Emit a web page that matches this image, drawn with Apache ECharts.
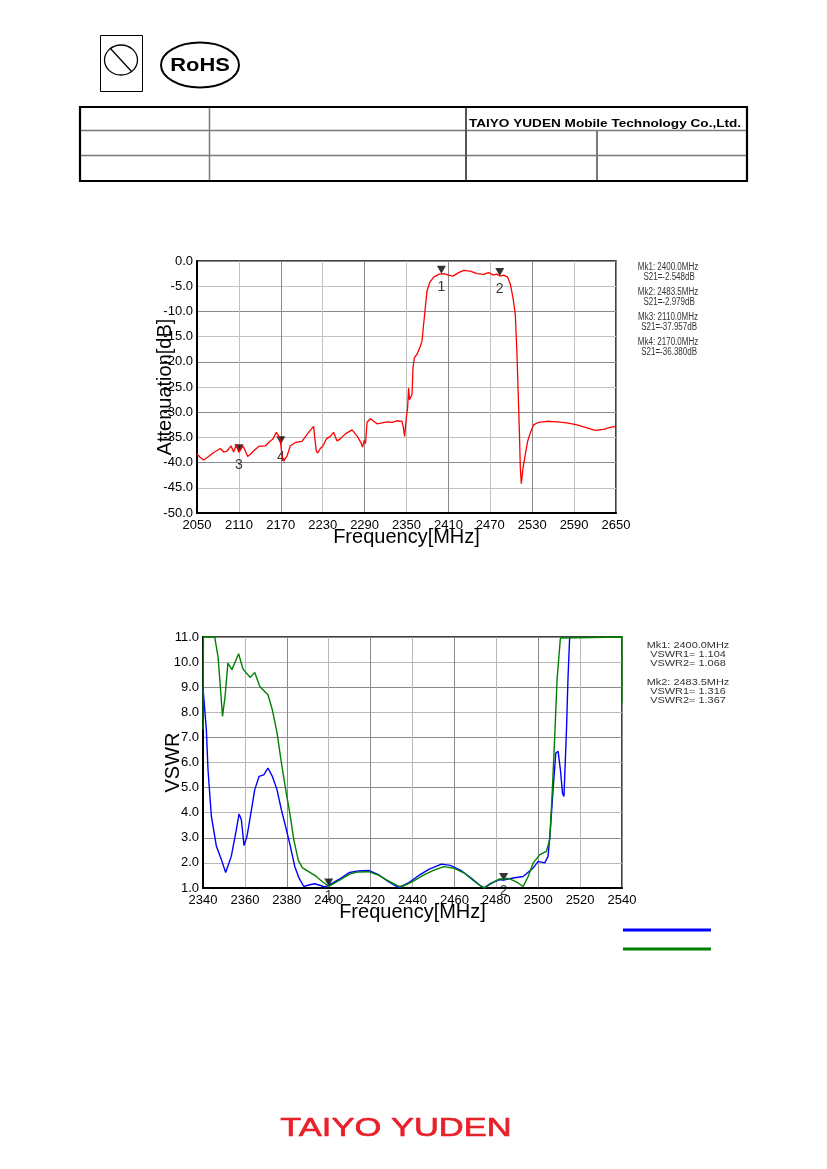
<!DOCTYPE html>
<html>
<head>
<meta charset="utf-8">
<script src="https://cdn.jsdelivr.net/npm/echarts@6/dist/echarts.min.js"></script>
<style>
  html, body { margin: 0; padding: 0; background: #fff; }
  #main { width: 827px; height: 1169px; }
</style>
</head>
<body>
<div id="main"></div>
<script>
// S21 curve (attenuation)
const s21Freq = [2050, 2054, 2059.5, 2066.6, 2073.8, 2079, 2083.4, 2088.1, 2093, 2098.7, 2102.5, 2106.3, 2110,
  2115.9, 2119, 2122.5, 2126, 2131, 2138.2, 2147.8, 2155, 2158.8, 2163.6, 2166.9, 2168.5, 2170, 2171.7, 2174,
  2178.9, 2183.6, 2190.8, 2200.4, 2209.8, 2217, 2218.4, 2220.8, 2223, 2226.6, 2230.4, 2235.2, 2240.9, 2245.6,
  2250.5, 2255.2, 2262.4, 2272, 2279.1, 2284.9, 2287, 2289.5, 2291.3, 2293.5, 2298.2, 2307.8, 2315, 2322.1,
  2329.3, 2336.4, 2343.5, 2345.5, 2347.3, 2349.7, 2351.6, 2353, 2354.3, 2355.5, 2357.9, 2359.3, 2361.2, 2365,
  2369.8, 2372.2, 2374.5, 2376.9, 2379.3, 2383.1, 2388.8, 2396, 2400, 2403.1, 2410.3, 2416.6, 2424.6, 2431.8,
  2441.4, 2450.9, 2460.4, 2467.6, 2474.7, 2479, 2483.5, 2489.1, 2494.8, 2498.7, 2502.5, 2505.8, 2508.2, 2509.7,
  2511.5, 2513, 2514.4, 2516.8, 2520.1, 2523.4, 2527.3, 2532, 2539.2, 2551.2, 2565.5, 2579.8, 2594.2, 2608.5,
  2620.4, 2632.3, 2641.9, 2650];
const s21Db = [-38.3, -38.9, -39.5, -38.8, -38.0, -37.6, -37.2, -37.9, -37.7, -36.7, -37.9, -36.4, -37.957,
  -36.7, -37.6, -38.8, -38.4, -37.7, -36.8, -36.7, -35.7, -35.3, -34.0, -34.7, -35.2, -36.38, -38.7, -39.7,
  -38.7, -36.7, -36.0, -35.8, -34.0, -32.8, -34.7, -37.7, -38.1, -37.2, -36.7, -35.3, -34.8, -34.0,
  -35.7, -35.3, -34.3, -33.5, -34.7, -36.1, -36.9, -35.6, -36.2, -32.0, -31.3, -32.3, -32.1, -31.9,
  -32.0, -31.7, -31.8, -33.0, -34.8, -31.1, -29.1, -25.2, -27.5, -27.5, -26.5, -21.2, -19.2, -18.5,
  -16.9, -15.9, -12.6, -9.3, -6.0, -4.3, -3.2, -2.65, -2.548, -2.5, -2.8, -3.0, -2.3, -1.85,
  -2.0, -2.5, -2.65, -2.3, -2.8, -2.6, -2.979, -2.8, -3.2, -4.6, -7.3, -10.6, -18.5, -25.2,
  -33.1, -41.1, -44.2, -41.1, -38.4, -35.8, -34.1, -32.5, -32.0, -31.8, -31.9, -32.1, -32.5, -33.1,
  -33.6, -33.4, -33.0, -32.8];

// VSWR1 (blue)
const vswr1Freq = [2340, 2341.6, 2342.4, 2344, 2346.4, 2348.8, 2350.8, 2353.5, 2355.9, 2357.2, 2358.3, 2359.6,
  2361, 2362.6, 2364.7, 2366.8, 2369, 2371, 2373.1, 2375.3, 2377.4, 2379.8, 2381.7, 2383.8, 2385.8, 2388.1,
  2390.9, 2393.3, 2396.5, 2398, 2400, 2405, 2410, 2414, 2419, 2424, 2428, 2432.5, 2434, 2438, 2443, 2448,
  2453.8, 2458, 2463, 2468, 2472, 2474, 2477, 2481.6, 2483.5, 2488, 2492.8, 2497.6, 2500, 2503.1, 2504.7,
  2505.8, 2507.1, 2508.4, 2509.5, 2510.6, 2511.6, 2512.3, 2513.5, 2514.2, 2515, 2515.6];
const vswr1 = [9.0, 7.3, 5.7, 3.85, 2.66, 2.13, 1.62, 2.26, 3.32, 3.95, 3.72, 2.69,
  3.06, 3.85, 4.92, 5.45, 5.51, 5.78, 5.45, 4.92, 4.12, 3.32, 2.66, 1.86, 1.40, 1.06,
  1.13, 1.17, 1.09, 1.04, 1.104, 1.35, 1.62, 1.68, 1.70, 1.52, 1.28, 1.05, 1.03, 1.2, 1.5, 1.75,
  1.95, 1.9, 1.7, 1.4, 1.12, 1.0, 1.17, 1.33, 1.316, 1.40, 1.46, 1.8, 2.06, 2.0, 2.26,
  3.32, 4.92, 6.38, 6.44, 5.71, 4.78, 4.65, 7.3, 9.3, 10.96, 11];

// VSWR2 (green)
const vswr2Freq = [2340, 2340.2, 2345.6, 2347.2, 2348.3, 2349.3, 2350.5, 2351.9, 2353.8, 2357, 2359.1, 2362.6,
  2364.7, 2367.1, 2371, 2373.1, 2375.3, 2377.4, 2379.5, 2381.4, 2383.4, 2385.5, 2387.5, 2391, 2394.1, 2397, 2400,
  2405, 2410, 2414, 2419, 2424, 2428, 2433, 2435, 2440, 2445, 2450, 2455, 2460, 2465, 2469, 2472.5, 2474.5,
  2478, 2481.6, 2483.5, 2486, 2490.4, 2492.8, 2495.2, 2497.6, 2500.8, 2503.9, 2505.5, 2506.6, 2507.9, 2509,
  2510.6, 2511, 2540, 2540];
const vswr2 = [7.3, 11, 11, 10.2, 9.0, 7.84, 8.6, 9.96, 9.7, 10.33, 9.72, 9.39,
  9.59, 9.03, 8.7, 8.1, 7.2, 6.0, 4.9, 4.0, 2.9, 2.1, 1.8, 1.62, 1.46, 1.25, 1.068,
  1.3, 1.55, 1.64, 1.65, 1.5, 1.3, 1.08, 1.06, 1.25, 1.5, 1.7, 1.85, 1.78, 1.58, 1.3, 1.08, 1.0,
  1.2, 1.36, 1.367, 1.38, 1.2, 1.06, 1.46, 2.0, 2.33, 2.46, 2.92, 4.65, 7.04, 9.3,
  10.96, 11, 11, 8.37];

// markers
const s21MarkFreq = [2400, 2483.5, 2110, 2170];
const s21MarkDb = [-2.548, -2.979, -37.957, -36.380];
const vswrMarkFreq = [2400, 2483.5];
const vswrMarkVal = [1.104, 1.316];

// marker read-outs
const s21Notes = [['Mk1: 2400.0MHz', ' S21=-2.548dB'], ['Mk2: 2483.5MHz', ' S21=-2.979dB'],
  ['Mk3: 2110.0MHz', ' S21=-37.957dB'], ['Mk4: 2170.0MHz', ' S21=-36.380dB']];
const vswrNotes = [['Mk1: 2400.0MHz', 'VSWR1= 1.104', 'VSWR2= 1.068'],
  ['Mk2: 2483.5MHz', 'VSWR1= 1.316', 'VSWR2= 1.367']];

const companyName = 'TAIYO YUDEN Mobile Technology Co.,Ltd.';
const logoText = 'TAIYO YUDEN';

const zip = (xs, ys) => xs.map((x, i) => [x, ys[i]]);
const FONT = '"Liberation Sans", Arial, sans-serif';

const chart = echarts.init(document.getElementById('main'));

const axisLabel = { color: '#000', fontSize: 13, fontFamily: FONT };
const nameStyle = { color: '#000', fontSize: 20, fontFamily: FONT };

function xAxisOf(gridIndex, min, max, interval, colors) {
  return {
    type: 'value', gridIndex, min, max, interval,
    name: 'Frequency[MHz]', nameLocation: 'middle', nameGap: 14, nameTextStyle: nameStyle,
    nameMoveOverlap: false,
    axisLine: { show: true, onZero: false, lineStyle: { color: '#000', width: 2 } },
    axisTick: { show: false },
    axisLabel: Object.assign({ margin: 6, formatter: v => String(v) }, axisLabel),
    splitLine: { show: true, lineStyle: { color: colors, width: 1 } }
  };
}
function yAxisOf(gridIndex, min, max, interval, name, gap, colors) {
  return {
    type: 'value', gridIndex, min, max, interval,
    name, nameLocation: 'middle', nameGap: gap, nameTextStyle: nameStyle,
    nameMoveOverlap: false,
    axisLine: { show: true, onZero: false, lineStyle: { color: '#000', width: 2 } },
    axisTick: { show: false },
    axisLabel: Object.assign({ margin: 4, formatter: v => v.toFixed(1) }, axisLabel),
    splitLine: { show: true, lineStyle: { color: colors, width: 1 } }
  };
}

const markerSymbol = 'path://M0,0L10,0L5,8Z';

function noteTexts(notes, cx, startY, lineGap, groupGap, size, scaleX) {
  const out = [];
  let y = startY;
  notes.forEach(group => {
    group.forEach(line => {
      out.push({
        type: 'text', x: cx, y: y, scaleX: scaleX,
        style: { text: line, fontSize: size, fontFamily: FONT, fill: '#333', align: 'center', verticalAlign: 'middle' }
      });
      y += lineGap;
    });
    y += groupGap - lineGap;
  });
  return out;
}

const tableLines = [
  { type: 'line', shape: { x1: 81, y1: 130.5, x2: 746, y2: 130.5 }, style: { stroke: '#7a7a7a', lineWidth: 1.5 } },
  { type: 'line', shape: { x1: 81, y1: 155.5, x2: 746, y2: 155.5 }, style: { stroke: '#7a7a7a', lineWidth: 1.5 } },
  { type: 'line', shape: { x1: 209.5, y1: 108, x2: 209.5, y2: 180 }, style: { stroke: '#7a7a7a', lineWidth: 1.5 } },
  { type: 'line', shape: { x1: 466, y1: 108, x2: 466, y2: 180 }, style: { stroke: '#555', lineWidth: 2 } },
  { type: 'line', shape: { x1: 597, y1: 131, x2: 597, y2: 180 }, style: { stroke: '#7a7a7a', lineWidth: 2 } },
  { type: 'rect', shape: { x: 80, y: 107, width: 667, height: 74 }, style: { fill: 'none', stroke: '#000', lineWidth: 2.2 } }
];

const option = {
  backgroundColor: '#fff',
  animation: false,
  grid: [
    { left: 197, top: 261, width: 419, height: 252, show: true, borderColor: '#000', borderWidth: 1.5, backgroundColor: 'transparent' },
    { left: 203, top: 637, width: 419, height: 251, show: true, borderColor: '#000', borderWidth: 1.5, backgroundColor: 'transparent' }
  ],
  xAxis: [
    xAxisOf(0, 2050, 2650, 60, ['#8a8a8a', '#c2c2c2']),
    xAxisOf(1, 2340, 2540, 20, ['#8a8a8a', '#b8b8b8'])
  ],
  yAxis: [
    yAxisOf(0, -50, 0, 5, 'Attenuation[dB]', 22, ['#8a8a8a', '#c2c2c2']),
    yAxisOf(1, 1, 11, 1, 'VSWR', 20, ['#8a8a8a', '#b8b8b8'])
  ],
  series: [
    {
      type: 'line', xAxisIndex: 0, yAxisIndex: 0, data: zip(s21Freq, s21Db),
      showSymbol: false, clip: false, lineStyle: { color: '#ff0000', width: 1.3 }
    },
    {
      type: 'scatter', xAxisIndex: 0, yAxisIndex: 0, data: zip(s21MarkFreq, s21MarkDb),
      symbol: markerSymbol, symbolSize: [9, 8], symbolOffset: [0, -4],
      itemStyle: { color: '#000' },
      label: { show: true, position: 'bottom', distance: 6, color: '#000', fontSize: 14, fontFamily: FONT,
        formatter: p => String(p.dataIndex + 1) }
    },
    {
      type: 'line', xAxisIndex: 1, yAxisIndex: 1, data: zip(vswr1Freq, vswr1),
      showSymbol: false, clip: false, lineStyle: { color: '#0000ff', width: 1.4 }
    },
    {
      type: 'line', xAxisIndex: 1, yAxisIndex: 1, data: zip(vswr2Freq, vswr2),
      showSymbol: false, clip: false, lineStyle: { color: '#008000', width: 1.4 }
    },
    {
      type: 'scatter', xAxisIndex: 1, yAxisIndex: 1, data: zip(vswrMarkFreq, vswrMarkVal),
      symbol: markerSymbol, symbolSize: [9, 8], symbolOffset: [0, -3],
      itemStyle: { color: '#000' },
      label: { show: true, position: 'bottom', distance: 3, color: '#000', fontSize: 14, fontFamily: FONT,
        formatter: p => String(p.dataIndex + 1) }
    }
  ],
  graphic: [
    // header symbols
    { type: 'rect', shape: { x: 100.5, y: 35.5, width: 42, height: 56 }, style: { fill: 'none', stroke: '#000', lineWidth: 1 } },
    { type: 'ellipse', shape: { cx: 121, cy: 60, rx: 16.5, ry: 15 }, style: { fill: 'none', stroke: '#000', lineWidth: 1.3 } },
    { type: 'line', shape: { x1: 110, y1: 48, x2: 132, y2: 72 }, style: { stroke: '#000', lineWidth: 1.3 } },
    { type: 'ellipse', shape: { cx: 200, cy: 65, rx: 39, ry: 22.5 }, style: { fill: 'none', stroke: '#000', lineWidth: 2 } },
    { type: 'text', x: 200, y: 66, scaleX: 1.15,
      style: { text: 'RoHS', fontSize: 19, fontWeight: 'bold', fontFamily: FONT, fill: '#000', align: 'center', verticalAlign: 'middle' } },
    ...tableLines,
    { type: 'text', x: 605, y: 124, scaleX: 1.36,
      style: { text: companyName, fontSize: 10, fontWeight: 'bold', fontFamily: FONT, fill: '#000', align: 'center', verticalAlign: 'middle' } },
    // marker read-outs
    ...noteTexts(s21Notes, 668, 267, 10, 15, 10, 0.8),
    ...noteTexts(vswrNotes, 688, 645, 9, 19, 9.5, 1.15),
    // trace keys under VSWR plot
    { type: 'line', shape: { x1: 623, y1: 930, x2: 711, y2: 930 }, style: { stroke: '#0000ff', lineWidth: 3 } },
    { type: 'line', shape: { x1: 623, y1: 949, x2: 711, y2: 949 }, style: { stroke: '#008000', lineWidth: 3 } },
    // footer logo
    { type: 'text', x: 396, y: 1129, scaleX: 1.38,
      style: { text: logoText, fontSize: 25, fontFamily: FONT, fill: '#e8202a', stroke: '#e8202a', lineWidth: 0.6,
        align: 'center', verticalAlign: 'middle' } }
  ]
};

chart.setOption(option);
</script>
</body>
</html>
